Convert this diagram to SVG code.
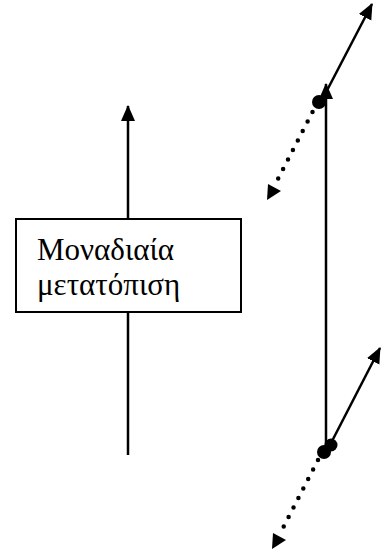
<svg xmlns="http://www.w3.org/2000/svg" width="384" height="553" viewBox="0 0 384 553">
<defs>
<marker id="ahb" markerWidth="16" markerHeight="16" refX="15" refY="8" orient="auto" markerUnits="userSpaceOnUse" viewBox="0 0 16 16">
<path d="M0,1 L16,8 L0,15 z" fill="#000"/>
</marker>
</defs>
<style>
.ln{stroke:#000;stroke-width:2.5;fill:none}
.dot{stroke:#000;stroke-width:4.5;stroke-dasharray:0 10.7;stroke-linecap:round;fill:none}
.lbl{font-family:"Liberation Serif","Times New Roman",serif;font-size:31px;fill:#000}
</style>
<g id="connectors">
<line class="ln" x1="128" y1="455" x2="128" y2="106" marker-end="url(#ahb)"/>
<line class="ln" x1="326" y1="448" x2="326" y2="84" marker-end="url(#ahb)"/>
<line class="ln" x1="322" y1="100" x2="372" y2="4" marker-end="url(#ahb)"/>
<line class="dot" x1="312.5" y1="112" x2="278" y2="179"/>
<path d="M267,200 L268,184 L281,191 z" fill="#000"/>
<line class="ln" x1="330" y1="445" x2="380" y2="348" marker-end="url(#ahb)"/>
<line class="dot" x1="318" y1="460" x2="283" y2="528"/>
<path d="M272,549 L273,533 L286,540 z" fill="#000"/>
</g>
<g id="node-box">
<rect x="16" y="219" width="225" height="93" fill="#fff" stroke="#000" stroke-width="2"/>
<text class="lbl" x="37" y="260">Μοναδιαία</text>
<text class="lbl" x="37" y="295">μετατόπιση</text>
</g>
<g id="node-dot-top">
<circle cx="319" cy="102" r="7" fill="#000"/>
</g>
<g id="node-dot-bottom">
<circle cx="324" cy="452" r="7" fill="#000"/>
<circle cx="331" cy="445" r="6.5" fill="#000"/>
</g>
</svg>
